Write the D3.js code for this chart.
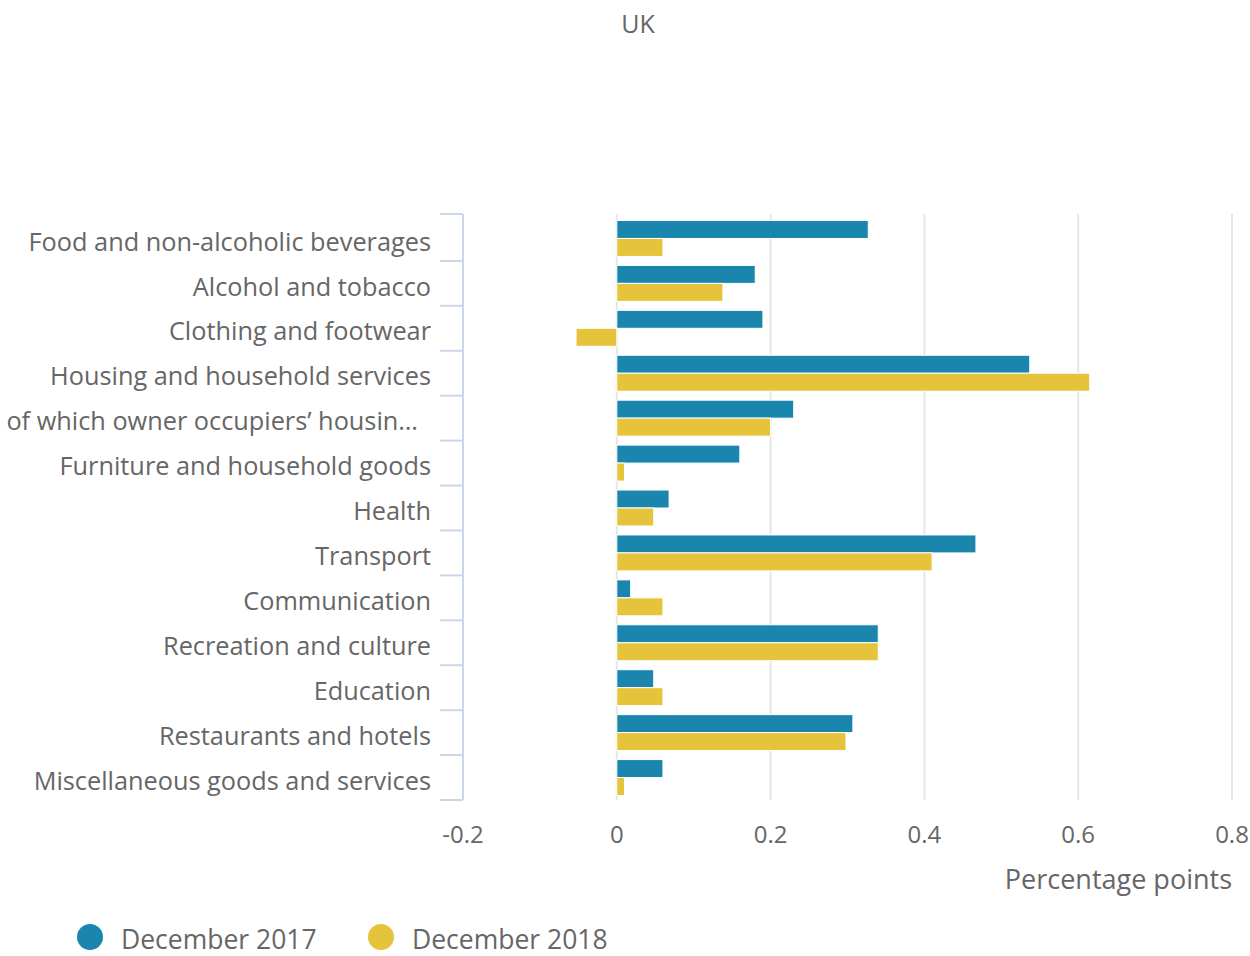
<!DOCTYPE html>
<html>
<head>
<meta charset="utf-8">
<script src="https://cdn.jsdelivr.net/npm/d3@7"></script>
<style>
  body { margin: 0; background: #fff; }
  text { font-family: "Open Sans", sans-serif; fill: #666; }
</style>
</head>
<body>
<div id="chart"></div>
<script>
var categories = [
    "Food and non-alcoholic beverages",
    "Alcohol and tobacco",
    "Clothing and footwear",
    "Housing and household services",
    "of which owner occupiers\u2019 housin\u2026",
    "Furniture and household goods",
    "Health",
    "Transport",
    "Communication",
    "Recreation and culture",
    "Education",
    "Restaurants and hotels",
    "Miscellaneous goods and services"
];
var seriesNames = ["December 2017", "December 2018"];
var dec2017 = [0.327, 0.18, 0.19, 0.537, 0.23, 0.16, 0.068, 0.467, 0.018, 0.34, 0.048, 0.307, 0.06];
var dec2018 = [0.06, 0.138, -0.053, 0.615, 0.2, 0.01, 0.048, 0.41, 0.06, 0.34, 0.06, 0.298, 0.01];
var xTicks = [-0.2, 0, 0.2, 0.4, 0.6, 0.8];
var colors = ["#1a86ae", "#e5c33a"];

var width = 1250, height = 956;
var margin = {top: 216, right: 18, bottom: 156, left: 463};

var svg = d3.select("#chart").append("svg")
    .attr("width", width)
    .attr("height", height);

var x = d3.scaleLinear().domain([-0.2, 0.8]).range([margin.left, width - margin.right]);
var y = d3.scaleBand().domain(categories).range([margin.top, height - margin.bottom]);
var inner = d3.scaleBand().domain(seriesNames).range([y.bandwidth() * 0.1, y.bandwidth() * 0.9]);

// title
svg.append("text")
    .attr("x", 638).attr("y", 33)
    .attr("text-anchor", "middle")
    .style("font-size", "25px")
    .text("UK");

// grid
svg.append("g").selectAll("line")
    .data(xTicks)
    .enter().append("line")
        .attr("x1", function(d) { return x(d); })
        .attr("x2", function(d) { return x(d); })
        .attr("y1", margin.top - 2)
        .attr("y2", height - margin.bottom)
        .attr("stroke", "#e6e6e6")
        .attr("stroke-width", 2);

// bars
var rows = categories.map(function(c, i) {
    return {cat: c, values: [dec2017[i], dec2018[i]]};
});

var groups = svg.append("g").selectAll("g")
    .data(rows)
    .enter().append("g")
        .attr("transform", function(d) { return "translate(0," + y(d.cat) + ")"; });

groups.selectAll("rect")
    .data(function(d) { return d.values.map(function(v, k) { return {name: seriesNames[k], v: v, k: k}; }); })
    .enter().append("rect")
        .attr("x", function(d) { return x(Math.min(0, d.v)); })
        .attr("y", function(d) { return inner(d.name); })
        .attr("width", function(d) { return Math.abs(x(d.v) - x(0)); })
        .attr("height", inner.bandwidth())
        .attr("fill", function(d) { return colors[d.k]; })
        .attr("stroke", "#fff")
        .attr("stroke-width", 1);

// y axis
var yAxis = svg.append("g");
yAxis.append("line")
    .attr("x1", margin.left).attr("x2", margin.left)
    .attr("y1", margin.top - 2).attr("y2", height - margin.bottom)
    .attr("stroke", "#ccd6eb").attr("stroke-width", 2);

var boundaries = categories.map(function(c) { return y(c); }).concat([height - margin.bottom]);
boundaries[0] = margin.top - 2;
yAxis.selectAll(".tick")
    .data(boundaries)
    .enter().append("line")
        .attr("x1", margin.left - 23).attr("x2", margin.left)
        .attr("y1", function(d) { return d; })
        .attr("y2", function(d) { return d; })
        .attr("stroke", "#ccd6eb").attr("stroke-width", 2);

yAxis.selectAll(".label")
    .data(categories)
    .enter().append("text")
        .attr("x", function(d, i) { return i === 4 ? 418 : 431; })
        .attr("y", function(d) { return y(d) + y.bandwidth() / 2; })
        .attr("dy", "0.48em")
        .attr("text-anchor", "end")
        .style("font-size", "25.3px")
        .text(function(d) { return d; });

// x axis labels
svg.append("g").selectAll("text")
    .data(xTicks)
    .enter().append("text")
        .attr("x", function(d) { return x(d); })
        .attr("y", 843)
        .attr("text-anchor", "middle")
        .style("font-size", "24px")
        .text(function(d) { return String(d); });

svg.append("text")
    .attr("x", x(0.8)).attr("y", 889)
    .attr("text-anchor", "end")
    .style("font-size", "27px")
    .text("Percentage points");

// legend
var legend = svg.append("g").selectAll("g")
    .data(seriesNames)
    .enter().append("g")
        .attr("transform", function(d, i) { return "translate(" + (90 + i * 291) + ",937)"; });

legend.append("circle")
    .attr("r", 13)
    .attr("fill", function(d, i) { return colors[i]; });

legend.append("text")
    .attr("x", 31).attr("y", 12)
    .style("font-size", "26.5px")
    .text(function(d) { return d; });
</script>
</body>
</html>
